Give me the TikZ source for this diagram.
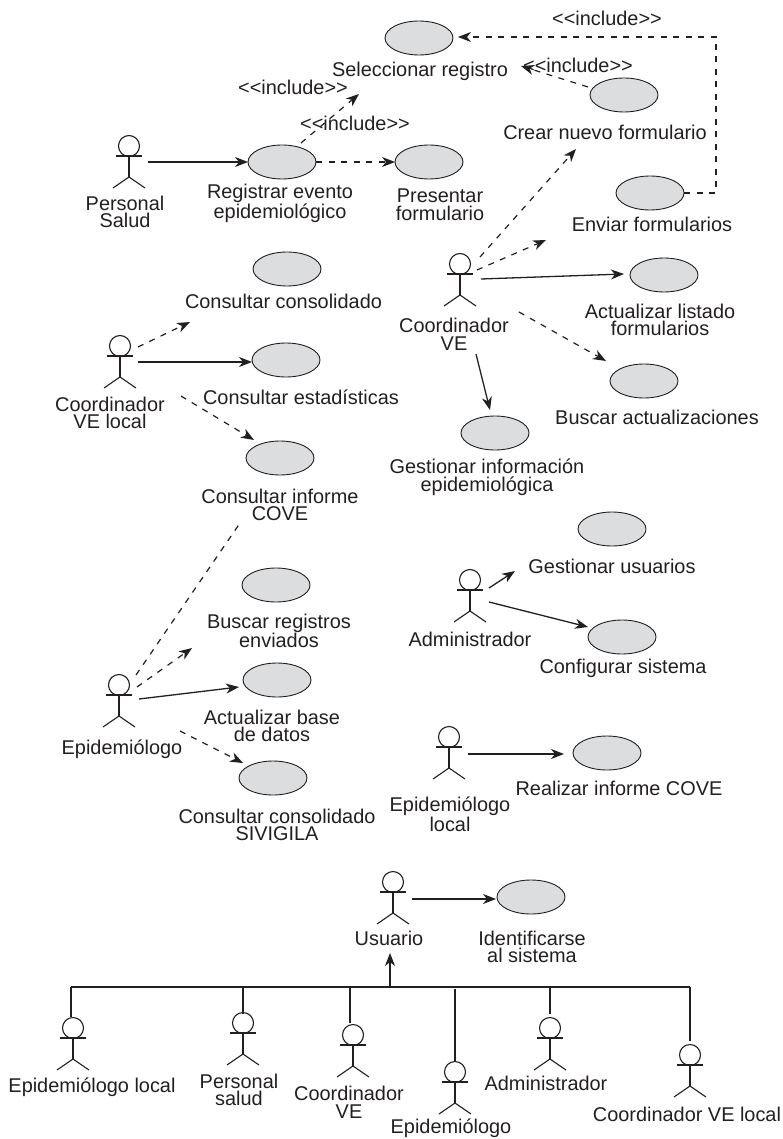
\documentclass[tikz,border=0pt]{standalone}
\usepackage{fontspec}
\setmainfont{Liberation Sans}
\usetikzlibrary{arrows.meta,shapes.geometric}
\definecolor{ink}{HTML}{231F20}
\definecolor{ucfill}{HTML}{DCDDDF}
\tikzset{
  usecase/.style={ellipse,draw=ink,fill=ucfill,line width=0.9pt,minimum width=68pt,minimum height=34pt,inner sep=0pt},
  actorhead/.style={circle,draw=ink,line width=1.1pt,minimum size=21pt,inner sep=0pt},
  actorline/.style={draw=ink,line width=1.1pt},
  lbl/.style={text=ink,inner sep=0pt,align=center,font=\fontsize{19.9}{17.7}\selectfont},
  tipa/.style={-{Stealth[length=13pt,width=10pt,inset=4pt]}},
  assoc/.style={draw=ink,line width=1.3pt,tipa},
  dep/.style={draw=ink,line width=1.2pt,dash pattern=on 6pt off 6.5pt,tipa},
  depline/.style={draw=ink,line width=1.2pt,dash pattern=on 6pt off 6.5pt},
  gen/.style={draw=ink,line width=1.1pt}
}
\newcommand\actor[3]{%
  \node[actorhead] (#1) at (#2,#3) {};
  \draw[actorline] ([shift={(-13,10)}]#1.center) -- ([shift={(13,10)}]#1.center);
  \draw[actorline] (#1.south) -- ([shift={(0,31)}]#1.center);
  \draw[actorline] ([shift={(-16,42)}]#1.center) -- ([shift={(0,31)}]#1.center) -- ([shift={(16,42)}]#1.center);
}
\newcommand\conn[5]{\draw[#1] ([shift={(#3)}]#2.center) -- ([shift={(#5)}]#4.center);}
\begin{document}
\begin{tikzpicture}[x=1pt,y=-1pt]
\useasboundingbox (0,0) rectangle (783,1139);
% use cases
\node[usecase] (sel) at (419,38) {};
\node[usecase] (crear) at (624,95) {};
\node[usecase] (reg) at (282,162) {};
\node[usecase] (pres) at (429,162) {};
\node[usecase] (env) at (650,193) {};
\node[usecase] (cons) at (287,269) {};
\node[usecase] (est) at (286,360) {};
\node[usecase] (cove) at (280,458) {};
\node[usecase] (act) at (664,275) {};
\node[usecase] (bus) at (644,381) {};
\node[usecase] (ges) at (495,433) {};
\node[usecase] (busr) at (276,585) {};
\node[usecase] (actb) at (277,680) {};
\node[usecase] (cons2) at (273,778) {};
\node[usecase] (gusr) at (612,529) {};
\node[usecase] (cfg) at (622,637) {};
\node[usecase] (rcov) at (607,753) {};
\node[usecase] (ide) at (531,897) {};
% actors
\actor{pers}{129}{146}
\actor{cve}{460}{264}
\actor{cvl}{120}{346}
\actor{epi}{119}{685}
\actor{adm}{470}{580}
\actor{epl}{449}{737}
\actor{usr}{393}{882}
\actor{aepl}{73}{1028}
\actor{aper}{243}{1023}
\actor{acve}{353}{1035}
\actor{aepi}{455}{1072}
\actor{aadm}{550}{1028}
\actor{acvl}{690}{1055}
% labels
\node[lbl] (tsel) at (420,71) {Seleccionar registro};
\node[lbl] (inc1) at (607,18) {<{}<include>{}>};
\node[lbl] (inc2) at (578,65) {<{}<include>{}>};
\node[lbl] (inc3) at (293,87) {<{}<include>{}>};
\node[lbl] (inc4) at (355,123) {<{}<include>{}>};
\node[lbl] (tcrear) at (605,132) {Crear nuevo formulario};
\node[lbl] (treg) at (280,203) {Registrar evento\\epidemiológico};
\node[lbl] (tpres) at (440,205) {Presentar\\formulario};
\node[lbl] (tpers) at (125,212) {Personal\\Salud};
\node[lbl] (tenv) at (652,224) {Enviar formularios};
\node[lbl] (tcons) at (283.5,301) {Consultar consolidado};
\node[lbl] (test) at (301,397) {Consultar estadísticas};
\node[lbl] (tcvl) at (110,413) {Coordinador\\VE local};
\node[lbl] (tcove) at (280,505) {Consultar informe\\COVE};
\node[lbl] (tcve) at (454,334) {Coordinador\\VE};
\node[lbl] (tact) at (660,320) {Actualizar listado\\formularios};
\node[lbl] (tbus) at (657,417) {Buscar actualizaciones};
\node[lbl] (tges) at (487,477) {Gestionar información\\epidemiológica};
\node[lbl] (tbusr) at (279,631) {Buscar registros\\enviados};
\node[lbl] (tactb) at (272,726) {Actualizar base\\de datos};
\node[lbl] (tcons2) at (277,825) {Consultar consolidado\\SIVIGILA};
\node[lbl] (tepi) at (122,749) {Epidemiólogo};
\node[lbl] (tgusr) at (612,566) {Gestionar usuarios};
\node[lbl] (tadm) at (470,639) {Administrador};
\node[lbl] (tcfg) at (623,668) {Configurar sistema};
\node[lbl] (trcov) at (619,788) {Realizar informe COVE};
\node[lbl] (tepl) at (450,814) {Epidemiólogo\\local};
\node[lbl] (tusr) at (389,938) {Usuario};
\node[lbl] (tide) at (532,947) {Identificarse\\al sistema};
\node[lbl] (taepl) at (92,1087) {Epidemiólogo local};
\node[lbl] (taper) at (239,1090) {Personal\\salud};
\node[lbl] (tacve) at (349,1102) {Coordinador\\VE};
\node[lbl] (taepi) at (451,1128) {Epidemiólogo};
\node[lbl] (taadm) at (546,1083) {Administrador};
\node[lbl] (tacvl) at (687,1114) {Coordinador VE local};
% connectors
\conn{assoc}{pers}{19,16}{reg}{-34,0}
\conn{dep}{reg}{34,0}{pres}{-34,0}
\conn{dep}{reg}{19,-19}{sel}{-60,56}
\conn{dep}{crear}{-36,-8}{sel}{102,28}
\draw[dep] ([shift={(34,0)}]env.center) -- ++(32,0) -- ++(0,-156) -- ([shift={(39,-1)}]sel.center);
\conn{dep}{cve}{20,-7}{crear}{-48,54}
\conn{dep}{cve}{17,6}{env}{-104,47}
\conn{assoc}{cve}{21,15}{act}{-40,-1}
\conn{dep}{cve}{59,48}{bus}{-38,-20}
\conn{assoc}{cve}{16,90}{ges}{-5,-23}
\conn{dep}{cvl}{18,1}{cons}{-97,53}
\conn{assoc}{cvl}{18,16}{est}{-34,2}
\conn{dep}{cvl}{61,50}{cove}{-26,-18}
\conn{depline}{epi}{17,-10}{cove}{-40,65}
\conn{dep}{epi}{18,2}{busr}{-84,63}
\conn{assoc}{epi}{20,14}{actb}{-38,7}
\conn{dep}{epi}{61,46}{cons2}{-30,-15}
\conn{assoc}{adm}{19,8}{gusr}{-97,42}
\conn{assoc}{adm}{19,22}{cfg}{-34,-10}
\conn{assoc}{epl}{19,17}{rcov}{-43,1}
\conn{assoc}{usr}{19,17}{ide}{-35,2}
% generalisation
\coordinate (busL) at (71,987);
\coordinate (busM) at (390,987);
\coordinate (busR) at (690,987);
\coordinate (dropper) at (243,987);
\coordinate (dropcve) at (350,987);
\coordinate (dropepi) at (455,989);
\coordinate (dropadm) at (550,987);
\draw[gen] (busL) -- (busR);
\draw[gen,tipa] (busM) -- ([shift={(-3,71)}]usr.center);
\draw[gen] ([shift={(-2,-11)}]aepl.center) -- (busL);
\draw[gen] ([shift={(0,-9)}]aper.center) -- (dropper);
\draw[gen] ([shift={(-3,-12)}]acve.center) -- (dropcve);
\draw[gen] ([shift={(0,-10)}]aepi.center) -- (dropepi);
\draw[gen] ([shift={(0,-14)}]aadm.center) -- (dropadm);
\draw[gen] ([shift={(0,-14)}]acvl.center) -- (busR);
\end{tikzpicture}
\end{document}
